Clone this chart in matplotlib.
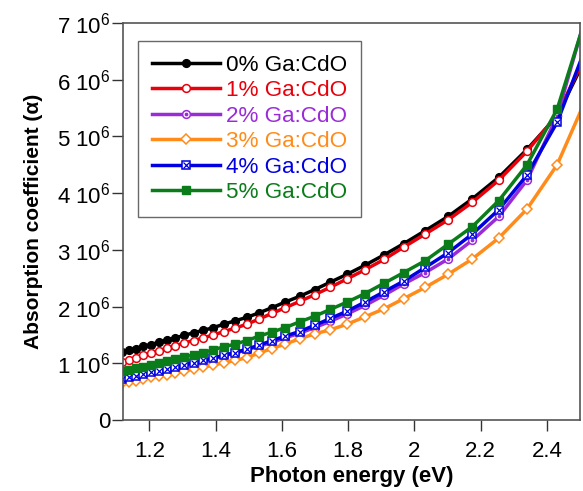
import matplotlib
matplotlib.use("Agg")
import matplotlib.pyplot as plt
import numpy as np
from matplotlib.ticker import FixedLocator, FuncFormatter

plt.rcParams['font.family'] = ['Liberation Sans', 'DejaVu Sans']
plt.rcParams['mathtext.fontset'] = 'custom'
plt.rcParams['mathtext.rm'] = 'Liberation Sans'
plt.rcParams['mathtext.it'] = 'Liberation Sans:italic'
plt.rcParams['mathtext.bf'] = 'Liberation Sans:bold'

# Photon energy (eV)
energy = [1.117, 1.138, 1.159, 1.181, 1.204, 1.228, 1.253, 1.278, 1.305, 1.333,
          1.363, 1.393, 1.425, 1.459, 1.494, 1.531, 1.570, 1.610, 1.653, 1.699,
          1.746, 1.797, 1.851, 1.908, 1.968, 2.033, 2.102, 2.175, 2.255, 2.340,
          2.431, 2.531]

# Absorption coefficient, in units of 10^6
alpha_0 = [1.20, 1.23, 1.26, 1.30, 1.33, 1.37, 1.41, 1.45, 1.49, 1.54,
           1.58, 1.63, 1.69, 1.75, 1.81, 1.89, 1.98, 2.08, 2.18, 2.30,
           2.43, 2.57, 2.73, 2.91, 3.11, 3.34, 3.59, 3.90, 4.28, 4.77,
           5.36, 6.55]
alpha_1 = [1.03, 1.06, 1.10, 1.14, 1.18, 1.22, 1.27, 1.31, 1.36, 1.40,
           1.45, 1.50, 1.56, 1.62, 1.69, 1.78, 1.88, 1.98, 2.09, 2.21,
           2.34, 2.49, 2.65, 2.83, 3.05, 3.28, 3.53, 3.84, 4.23, 4.74,
           5.38, 6.60]
alpha_2 = [0.75, 0.77, 0.80, 0.83, 0.85, 0.88, 0.91, 0.94, 0.98, 1.01,
           1.05, 1.09, 1.14, 1.18, 1.24, 1.30, 1.37, 1.45, 1.53, 1.63,
           1.74, 1.87, 2.02, 2.20, 2.40, 2.60, 2.84, 3.17, 3.59, 4.23,
           5.36, 7.40]
alpha_3 = [0.65, 0.67, 0.69, 0.72, 0.75, 0.77, 0.80, 0.83, 0.86, 0.90,
           0.93, 0.97, 1.01, 1.05, 1.10, 1.18, 1.26, 1.34, 1.43, 1.52,
           1.59, 1.69, 1.82, 1.96, 2.14, 2.34, 2.57, 2.84, 3.21, 3.72,
           4.50, 5.83]
alpha_4 = [0.73, 0.75, 0.78, 0.81, 0.84, 0.87, 0.90, 0.93, 0.97, 1.01,
           1.05, 1.09, 1.14, 1.19, 1.25, 1.32, 1.40, 1.48, 1.56, 1.67,
           1.79, 1.92, 2.08, 2.26, 2.45, 2.69, 2.95, 3.28, 3.71, 4.32,
           5.25, 6.78]
alpha_5 = [0.86, 0.88, 0.91, 0.94, 0.97, 1.00, 1.04, 1.07, 1.11, 1.15,
           1.19, 1.24, 1.29, 1.34, 1.40, 1.48, 1.55, 1.63, 1.73, 1.83,
           1.95, 2.08, 2.23, 2.41, 2.60, 2.81, 3.10, 3.41, 3.87, 4.50,
           5.48, 7.35]

labels = ['0% Ga:CdO', '1% Ga:CdO', '2% Ga:CdO', '3% Ga:CdO', '4% Ga:CdO', '5% Ga:CdO']
colors = ['#000000', '#e8000b', '#9a2bd8', '#ff8c1a', '#0000e0', '#0a7d1a']

y_ticks = [0, 1, 2, 3, 4, 5, 6, 7]
x_ticks = [1.2, 1.4, 1.6, 1.8, 2.0, 2.2, 2.4]
x_tick_labels = ['1.2', '1.4', '1.6', '1.8', '2', '2.2', '2.4']

fig = plt.figure(figsize=(5.83, 4.91), dpi=100)
ax = fig.add_axes([123/583, 1 - 420/491, (580 - 123)/583, (420 - 23)/491])

E = np.array(energy)
lw = 2.5
ms = 5.6
handles = []

series = [alpha_0, alpha_1, alpha_2, alpha_3, alpha_4, alpha_5]
for i, (vals, lab, c) in enumerate(zip(series, labels, colors)):
    y = np.array(vals) * 1e6
    if i == 0:
        h, = ax.plot(E, y, '-', color=c, lw=lw, marker='o', ms=ms, mfc=c, mec=c)
        handles.append(h)
    elif i == 1:
        h, = ax.plot(E, y, '-', color=c, lw=lw, marker='o', ms=ms, mfc='white', mec=c, mew=1.1)
        handles.append(h)
    elif i == 2:
        h, = ax.plot(E, y, '-', color=c, lw=lw, marker='o', ms=ms, mfc='white', mec=c, mew=1.1)
        h2, = ax.plot(E, y, ls='none', marker='o', ms=1.7, mfc=c, mec=c)
        handles.append((h, h2))
    elif i == 3:
        h, = ax.plot(E, y, '-', color=c, lw=lw, marker='D', ms=ms - 0.3, mfc='white', mec=c, mew=1.1)
        handles.append(h)
    elif i == 4:
        h, = ax.plot(E, y, '-', color=c, lw=lw, marker='s', ms=ms - 0.3, mfc='white', mec=c, mew=1.1)
        h2, = ax.plot(E, y, ls='none', marker='x', ms=ms - 1.3, mfc=c, mec=c, mew=0.9)
        handles.append((h, h2))
    else:
        h, = ax.plot(E, y, '-', color=c, lw=lw, marker='s', ms=ms, mfc=c, mec=c)
        handles.append(h)

ax.set_xlim(1.12, 2.5)
ax.set_ylim(0, 7e6)
ax.xaxis.set_major_locator(FixedLocator(x_ticks))
ax.set_xticklabels(x_tick_labels)
ax.yaxis.set_major_locator(FixedLocator([v * 1e6 for v in y_ticks]))
ax.yaxis.set_major_formatter(FuncFormatter(
    lambda v, p: '0' if abs(v) < 1 else '%d $\\mathregular{10^{6}}$' % round(v / 1e6)))

ax.tick_params(axis='both', direction='out', length=8, width=1.0, color='#333333',
               labelsize=16)
ax.tick_params(axis='x', pad=7)
ax.tick_params(axis='y', pad=1)
for s in ax.spines.values():
    s.set_color('#555555')
    s.set_linewidth(1.2)

ax.set_xlabel('Photon energy (eV)', fontsize=16, fontweight='bold', labelpad=3)
ax.set_ylabel('Absorption coefficient (α)', fontsize=15, fontweight='bold', labelpad=10)

leg = ax.legend(handles, labels, loc='upper left', bbox_to_anchor=(0.033, 0.955),
                borderaxespad=0, fontsize=16.2, frameon=True, fancybox=False,
                edgecolor='#444444', handlelength=3.0, handletextpad=0.3,
                labelspacing=0.2, borderpad=0.62)
leg.get_frame().set_linewidth(1.0)
for t, c in zip(leg.get_texts(), colors):
    t.set_color(c)

fig.savefig('out.png', dpi=100)
